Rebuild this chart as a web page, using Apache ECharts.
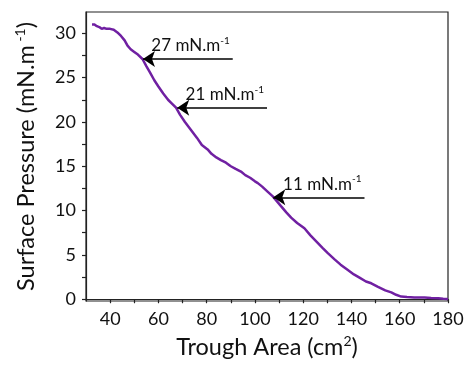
<!DOCTYPE html>
<html>
<head>
<meta charset="utf-8">
<script src="https://cdn.jsdelivr.net/npm/echarts@6/dist/echarts.min.js"></script>
<style>
  html, body { margin: 0; padding: 0; background: #fff; }
  #chart { width: 476px; height: 365px; }
</style>
</head>
<body>
<div id="chart"></div>
<script>
var areaValues = [32.5, 33.5, 34.5, 35.5, 36.5, 37.5, 38.5, 40, 41.5, 43, 44.5, 46, 47.2, 48.5, 50, 51.5,
    53.4, 55, 56.5, 58.3, 60, 62, 64, 65.5, 67.3, 69, 71, 73.5, 76, 78, 80.4, 82, 84, 85.9, 88, 90, 92,
    94.2, 96, 98, 100, 101.2, 103, 105, 107.4, 110.8, 113, 115, 117.5, 120.5, 123, 125.5, 128, 130.2,
    133, 135.5, 138.5, 141, 143.5, 146, 148.2, 151, 154, 156.5, 158.5, 160.6, 163, 166, 170.3, 173,
    176, 178, 180];
var pressureValues = [31.0, 31.0, 30.8, 30.7, 30.5, 30.6, 30.5, 30.5, 30.4, 30.1, 29.7, 29.2, 28.6, 28.2, 27.9, 27.6,
    27.1, 26.3, 25.6, 24.7, 24.0, 23.2, 22.5, 22.1, 21.6, 20.8, 20.0, 19.1, 18.2, 17.4, 16.9, 16.4, 16.0, 15.7, 15.4, 15.0, 14.7,
    14.4, 14.0, 13.7, 13.3, 13.1, 12.7, 12.2, 11.6, 10.5, 9.8, 9.2, 8.6, 8.0, 7.2, 6.5, 5.8, 5.2,
    4.5, 3.9, 3.3, 2.8, 2.4, 2.0, 1.8, 1.4, 1.0, 0.77, 0.5, 0.3, 0.25, 0.2, 0.2, 0.15,
    0.1, 0.05, 0.02];

// arrows pointing at the curve
var markLabels = ['27', '21', '11'];
var markTipX = [53.6, 67.8, 107.6];
var markTailX = [90.8, 105, 145.4];
var markY = [27.1, 21.6, 11.5];

var xLabelValues = [40, 60, 80, 100, 120, 140, 160, 180];
var xTickValues = [40, 50, 60, 70, 80, 90, 100, 110, 120, 130, 140, 150, 160, 170, 180];
var yLabelValues = [0, 5, 10, 15, 20, 25, 30];
var yTickValues = [0, 2.5, 5, 7.5, 10, 12.5, 15, 17.5, 20, 22.5, 25, 27.5, 30];

var FONT = 'Lato';

var CHART = {
    init: function(){
        var _this = this;
        var myChart = echarts.init(document.getElementById('chart'), null, {renderer: 'canvas'});
        myChart.setOption(_this.build_option());
    },
    build_marks: function(){
        var lines = [];
        for (var i = 0; i < markLabels.length; i++){
            lines.push([
                {
                    coord: [markTipX[i], markY[i]],
                    label: {formatter: markLabels[i] + ' mN.m{sup|-1}'}
                },
                {coord: [markTailX[i], markY[i]]}
            ]);
        }
        return lines;
    },
    build_option: function(){
        var points = [];
        for (var i = 0; i < areaValues.length; i++){
            points.push([areaValues[i], pressureValues[i]]);
        }
        var supStyle = {sup: {fontSize: 14, fontFamily: FONT, color: '#111', verticalAlign: 'top', lineHeight: 12}};
        var option = {
            animation: false,
            backgroundColor: '#fff',
            grid: {
                left: 86, right: 28, top: 12, bottom: 64,
                show: true, borderColor: '#222', borderWidth: 1.2,
                backgroundColor: 'transparent',
                outerBoundsMode: 'none'
            },
            xAxis: {
                type: 'value',
                min: 30, max: 180,
                name: 'Trough Area (cm{sup|2})',
                nameLocation: 'middle',
                nameGap: 33,
                nameTextStyle: {color: '#111', fontFamily: FONT, fontSize: 23.5, lineHeight: 27, rich: supStyle},
                axisLine: {show: true, lineStyle: {color: '#222', width: 1.2}},
                axisTick: {show: true, inside: false, length: 4, customValues: xTickValues, lineStyle: {color: '#222', width: 1.2}},
                axisLabel: {color: '#111', fontFamily: FONT, fontSize: 18, margin: 9, customValues: xLabelValues},
                splitLine: {show: false}
            },
            yAxis: {
                type: 'value',
                min: -0.2, max: 32.4,
                name: 'Surface Pressure (mN.m{sup| -1})',
                nameLocation: 'middle',
                nameGap: 46,
                nameTextStyle: {color: '#111', fontFamily: FONT, fontSize: 23.5, lineHeight: 27, rich: supStyle},
                axisLine: {show: true, lineStyle: {color: '#222', width: 1.2}},
                axisTick: {show: true, inside: false, length: 4, customValues: yTickValues, lineStyle: {color: '#222', width: 1.2}},
                axisLabel: {color: '#111', fontFamily: FONT, fontSize: 18, margin: 10, customValues: yLabelValues},
                splitLine: {show: false}
            },
            series: [{
                type: 'line',
                data: points,
                showSymbol: false,
                smooth: false,
                lineStyle: {color: '#7020a2', width: 2.5},
                markLine: {
                    silent: true,
                    symbol: ['arrow', 'none'],
                    symbolSize: 12,
                    itemStyle: {color: '#000'},
                    lineStyle: {color: '#000', width: 1.5, type: 'solid'},
                    label: {
                        show: true,
                        position: 'insideEndTop',
                        distance: 3,
                        color: '#111', fontFamily: FONT, fontSize: 17, lineHeight: 20,
                        rich: {sup: {fontSize: 10, fontFamily: FONT, color: '#111', verticalAlign: 'top', lineHeight: 10}}
                    },
                    data: this.build_marks()
                }
            }]
        };
        return option;
    }
};

CHART.init();
</script>
</body>
</html>
